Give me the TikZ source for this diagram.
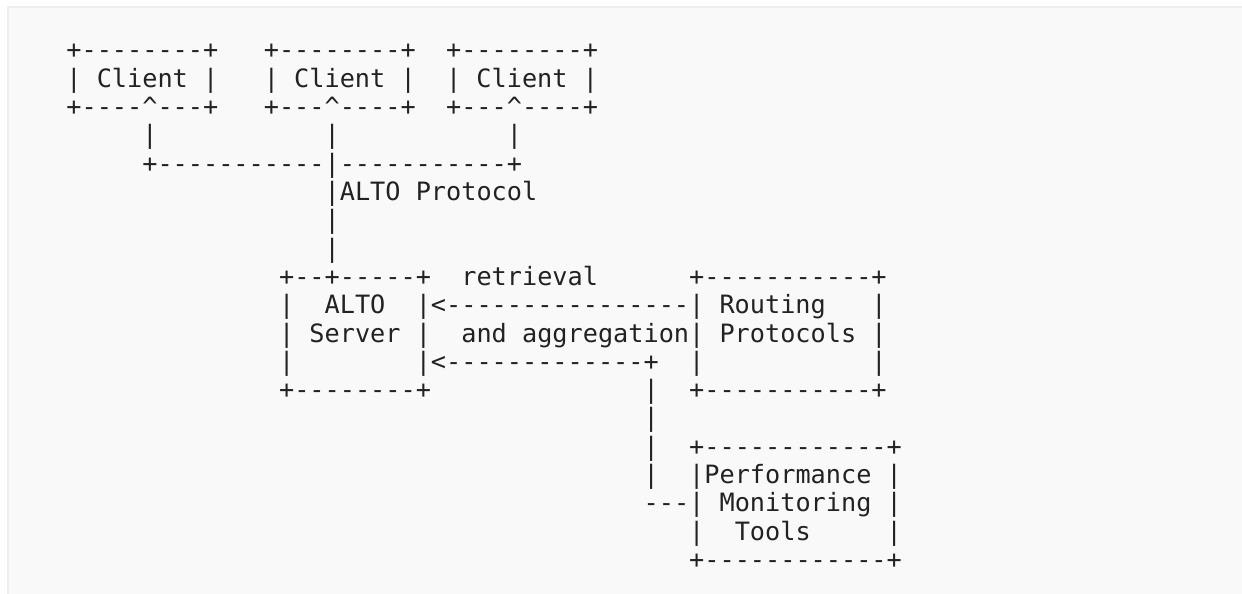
\documentclass[tikz,border=0pt]{standalone}
\usepackage{fontspec}
\setmonofont{DejaVu Sans Mono}
\definecolor{bgc}{HTML}{F9F9F9}
\definecolor{brd}{HTML}{EEEEEE}
\definecolor{txt}{HTML}{222222}
\newcommand\asline[4]{\node[asc] (#1) at ({66.4+#3*15.19},{87.3+(#2-2)*28.3}) {#4};}
\newcommand\caretch{\textasciicircum}
\begin{document}
\begin{tikzpicture}[x=1pt,y=-1pt,
  asc/.style={font=\ttfamily\fontsize{25.23}{28.3}\selectfont, text=txt, inner sep=0pt, outer sep=0pt, anchor=base west}]
\useasboundingbox (0,0) rectangle (1242,594);
\fill[white] (0,0) rectangle (1242,594);
\fill[brd] (7,6) rectangle (1242,594);
\fill[bgc] (9,8) rectangle (1242,594);
\asline{l1}{1}{0}{+--------+~~~+--------+~~+--------+}
\asline{l2}{2}{0}{|~Client~|~~~|~Client~|~~|~Client~|}
\asline{l3}{3}{0}{+----\caretch---+~~~+---\caretch----+~~+---\caretch----+}
\asline{l4}{4}{5}{|~~~~~~~~~~~|~~~~~~~~~~~|}
\asline{l5}{5}{5}{+-----------|-----------+}
\asline{l6}{6}{17}{|ALTO~Protocol}
\asline{l7}{7}{17}{|}
\asline{l8}{8}{17}{|}
\asline{l9}{9}{14}{+--+-----+~~retrieval~~~~~~+-----------+}
\asline{l10}{10}{14}{|~~ALTO~~|<----------------|~Routing~~~|}
\asline{l11}{11}{14}{|~Server~|~~and~aggregation|~Protocols~|}
\asline{l12}{12}{14}{|~~~~~~~~|<-------------+~~|~~~~~~~~~~~|}
\asline{l13}{13}{14}{+--------+~~~~~~~~~~~~~~|~~+-----------+}
\asline{l14}{14}{38}{|}
\asline{l15}{15}{38}{|~~+------------+}
\asline{l16}{16}{38}{|~~|Performance~|}
\asline{l17}{17}{38}{---|~Monitoring~|}
\asline{l18}{18}{41}{|~~Tools~~~~~|}
\asline{l19}{19}{41}{+------------+}
\end{tikzpicture}
\end{document}
